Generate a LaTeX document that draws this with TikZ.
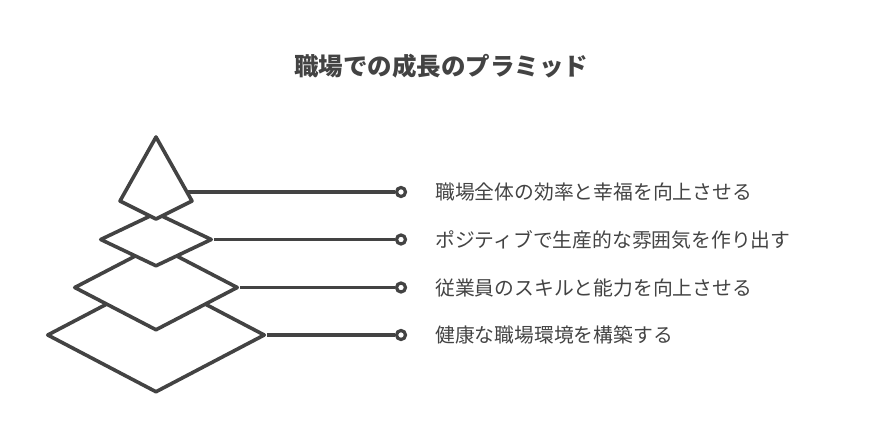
\documentclass[tikz,border=0pt]{standalone}
\usepackage{fontspec}
\setmainfont{Noto Sans CJK JP}
\usetikzlibrary{shapes.geometric,positioning,calc}
\definecolor{inkgray}{HTML}{434343}

\begin{document}
\begin{tikzpicture}[x=1pt,y=-1pt, every node/.style={font=\fontsize{19.8}{24}\selectfont,text=inkgray}]
	\tikzset{
		layer/.style={draw=inkgray,fill=white,line width=3.6pt,line join=round},
		tier/.style={layer,diamond,inner sep=0pt},
		pin/.style={circle,draw=inkgray,fill=white,line width=3.2pt,minimum size=9pt,inner sep=0pt},
		link/.style={draw=inkgray,line width=3.6pt},
		label/.style={right=28pt of #1,inner sep=0pt}
	}
	\useasboundingbox (0,0) rectangle (888,444);
	
	% Titolo
	\node[font=\bfseries\fontsize{24.5}{28}\selectfont] (title) at (441,66) {職場での成長のプラミッド};
	
	% Piramide (dal basso verso l'alto)
	\node[tier,minimum width=218pt,minimum height=115pt] (t4) at (156,335) {};
	\node[tier,minimum width=164pt,minimum height=86pt] (t3) at (156,287.5) {};
	\node[tier,minimum width=112pt,minimum height=54pt] (t2) at (156,239.5) {};
	\draw[layer] (156,137) coordinate (apex) -- (192,201) coordinate (kr)
		-- (156,219) -- (120,201) -- cycle;
	\coordinate (t1) at ($(apex)!0.86!(kr)$);
	
	% Punti di collegamento
	\node[pin] (p1) at (401,192) {};
	\node[pin] (p2) at (401,239.5) {};
	\node[pin] (p3) at (401,287.5) {};
	\node[pin] (p4) at (401,335) {};
	
	% Linee
	\draw[link] (t1) -- (p1);
	\draw[link] (t2.east) -- (p2);
	\draw[link] (t3.east) -- (p3);
	\draw[link] (t4.east) -- (p4);
	
	% Testi
	\node[label=p1] (l1) {職場全体の効率と幸福を向上させる};
	\node[label=p2] (l2) {ポジティブで生産的な雰囲気を作り出す};
	\node[label=p3] (l3) {従業員のスキルと能力を向上させる};
	\node[label=p4] (l4) {健康な職場環境を構築する};
\end{tikzpicture}
\end{document}
